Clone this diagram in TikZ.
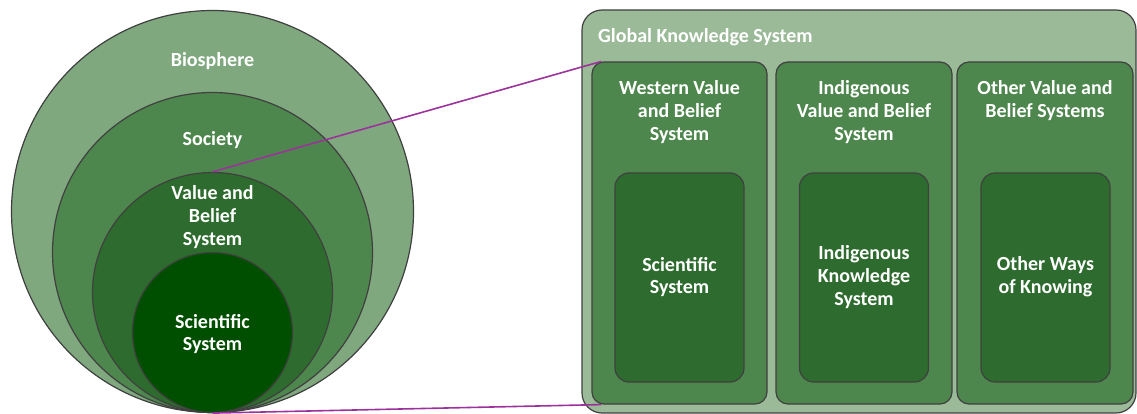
\documentclass[tikz,border=0pt]{standalone}
\usepackage{fontspec}
\setmainfont{Carlito}
\usepackage{tikz}
\usetikzlibrary{calc}
\definecolor{bio}{HTML}{7FA87E}
\definecolor{soc}{HTML}{4E874D}
\definecolor{vbs}{HTML}{2E6B2E}
\definecolor{sci}{HTML}{004E00}
\definecolor{panel}{HTML}{9BBA98}
\definecolor{edge}{HTML}{404040}
\definecolor{link}{HTML}{9C339C}
\tikzset{
  ring/.style={circle, draw=edge, line width=1.2pt, inner sep=0pt},
  col/.style={rectangle, rounded corners=12pt, draw=edge, line width=1.2pt, fill=soc, minimum width=175pt, minimum height=342pt},
  box/.style={rectangle, rounded corners=14pt, draw=edge, line width=1.2pt, fill=vbs, minimum width=129pt, minimum height=209pt},
  lab/.style={text=white, font=\bfseries\fontsize{20}{22.7}\selectfont, align=center, inner sep=0pt},
  conn/.style={draw=link, line width=1.6pt},
}
\begin{document}
\begin{tikzpicture}[x=1pt, y=-1pt]
  \useasboundingbox (0,0) rectangle (1137,414);

  % nested circles, all touching at the bottom
  \node[ring, fill=bio, minimum size=402pt] (bio) at (212.5,211.5) {};
  \node[ring, fill=soc, minimum size=320pt] (soc) at (212.5,252.5) {};
  \node[ring, fill=vbs, minimum size=240pt] (vbs) at (212.5,292.5) {};
  \node[ring, fill=sci, minimum size=160pt] (sci) at (212.5,332.5) {};

  \node[lab] (biolab) at (212.5,61) {Biosphere};
  \node[lab] (soclab) at (212.5,140) {Society};
  \node[lab] (vbslab) at (212.5,217) {Value and\\Belief\\System};
  \node[lab] (scilab) at (212.5,334) {Scientific\\System};

  % global knowledge panel
  \node[rectangle, rounded corners=20pt, draw=edge, line width=1.2pt, fill=panel,
        minimum width=554pt, minimum height=403pt] (gks) at (859,211.5) {};
  \node[lab, anchor=west] (gkslab) at (598,37) {Global Knowledge System};

  \node[col] (wcol) at (679.5,233) {};
  \node[col, minimum width=176pt] (icol) at (864,233) {};
  \node[col, minimum width=176pt] (ocol) at (1045,233) {};

  \node[lab] (wlab) at (679.5,112) {Western Value\\and Belief\\System};
  \node[lab] (ilab) at (864,112) {Indigenous\\Value and Belief\\System};
  \node[lab] (olab) at (1045,100.5) {Other Value and\\Belief Systems};

  \node[box] (wbox) at (679.5,277.5) {};
  \node[box] (ibox) at (864,277.5) {};
  \node[box] (obox) at (1045.5,277.5) {};

  \node[lab] (wboxlab) at (679.5,277) {Scientific\\System};
  \node[lab] (iboxlab) at (864,277) {Indigenous\\Knowledge\\System};
  \node[lab] (oboxlab) at (1045.5,277) {Other Ways\\of Knowing};

  % zoom lines
  \draw[conn] (vbs.north) -- ($(wcol.north west)+(10,0)$);
  \draw[conn] (sci.south) -- ($(wcol.south west)+(10,0)$);
\end{tikzpicture}
\end{document}
